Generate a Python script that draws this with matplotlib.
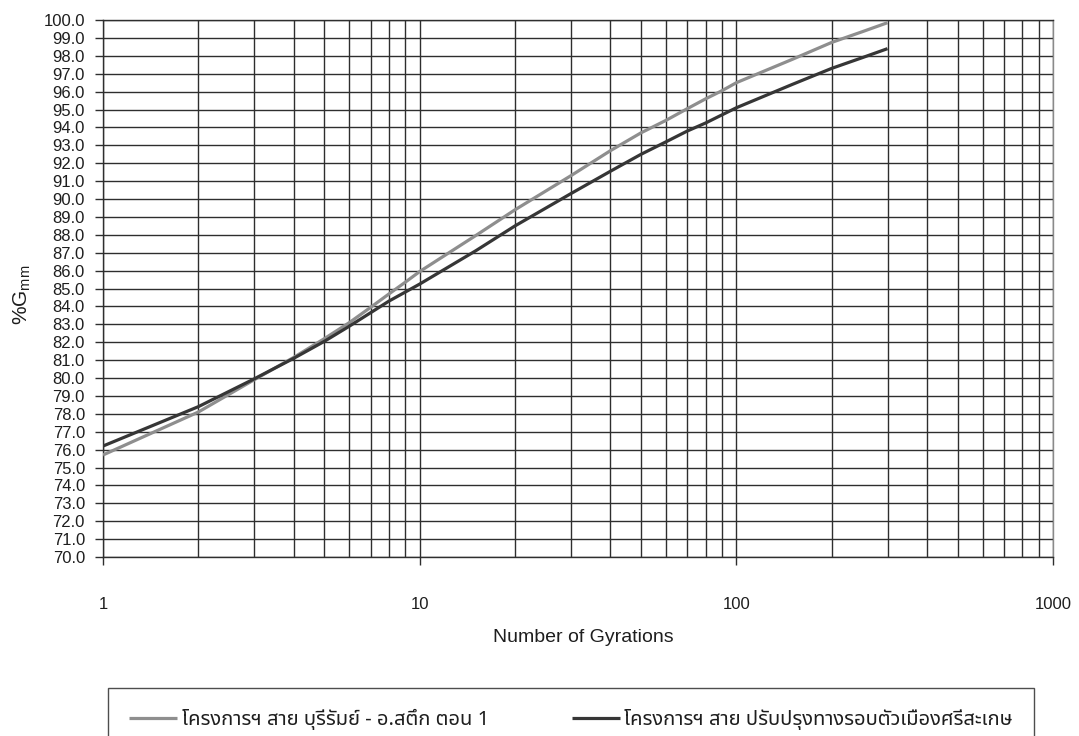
import numpy as np
import matplotlib
matplotlib.use("Agg")
import matplotlib.pyplot as plt
from matplotlib import font_manager
from matplotlib.font_manager import FontProperties
from matplotlib.ft2font import FT2Font
from matplotlib.ticker import FixedLocator, LogLocator, FuncFormatter, NullFormatter

# ---- data -------------------------------------------------------------
gyrations = [1, 2, 3, 4, 5, 6, 7, 8, 9, 10, 15, 20, 30, 40, 50, 60, 70, 80, 90,
             100, 150, 200, 250, 300]
gmm_buriram = [75.7, 78.1, 79.9, 81.15, 82.2, 83.1, 83.95, 84.7, 85.35, 85.95,
               87.95, 89.4, 91.3, 92.7, 93.7, 94.4, 95.05, 95.6, 96.05,
               96.5, 97.8, 98.75, 99.35, 99.85]
gmm_sisaket = [76.2, 78.4, 79.95, 81.1, 82.05, 82.9, 83.65, 84.3, 84.8, 85.25,
               87.1, 88.5, 90.3, 91.55, 92.5, 93.2, 93.8, 94.25, 94.7,
               95.1, 96.4, 97.3, 97.9, 98.4]
series_labels = ["โครงการฯ สาย บุรีรัมย์ - อ.สตึก ตอน 1",
                 "โครงการฯ สาย ปรับปรุงทางรอบตัวเมืองศรีสะเกษ"]
x_ticks = [1, 10, 100, 1000]
x_tick_labels = ["1", "10", "100", "1000"]
y_ticks = list(range(70, 101))
x_title = "Number of Gyrations"
y_title = "%G$_{\\mathrm{mm}}$"


def thai_family():
    """Return the name of an installed font that carries Thai glyphs."""
    preferred = ["Noto Sans Thai", "Noto Sans Thai UI", "Loma", "Garuda",
                 "Sawasdee", "Waree", "Norasi", "Kinnari", "Tlwg Typo"]
    found = []
    for fe in font_manager.fontManager.ttflist:
        try:
            cmap = FT2Font(fe.fname).get_charmap()
        except Exception:
            continue
        if 0x0E01 in cmap and 0x0E42 in cmap and 0x0E2A in cmap:
            found.append(fe.name)
    for name in preferred:
        if name in found:
            return name
    return found[0] if found else None


BASE = "Liberation Sans"
plt.rcParams["font.family"] = [BASE, "DejaVu Sans"]
plt.rcParams["mathtext.fontset"] = "custom"
plt.rcParams["mathtext.rm"] = BASE
plt.rcParams["mathtext.it"] = BASE

thai = thai_family()
legend_family = [thai, BASE, "DejaVu Sans"] if thai else [BASE, "DejaVu Sans"]

GRID = "#2e2e2e"
TXT = "#1e1e1e"

fig = plt.figure(figsize=(10.79, 7.36), dpi=100)
ax = fig.add_axes([0.0955, 0.2432, 0.8805, 0.7296])

ax.set_xscale("log")
ax.set_xlim(1, 1000)
ax.set_ylim(70, 100)

l1, = ax.plot(gyrations, gmm_buriram, color="#8e8e8e", lw=2.3,
              solid_capstyle="butt", zorder=4, label=series_labels[0])
l2, = ax.plot(gyrations, gmm_sisaket, color="#363636", lw=2.3,
              solid_capstyle="butt", zorder=4, label=series_labels[1])

# axes, ticks and grid
ax.xaxis.set_major_locator(FixedLocator(x_ticks))
ax.xaxis.set_major_formatter(FuncFormatter(
    lambda v, p: x_tick_labels[x_ticks.index(int(round(v)))] if int(round(v)) in x_ticks else ""))
ax.xaxis.set_minor_locator(LogLocator(base=10, subs=np.arange(2, 10), numticks=20))
ax.xaxis.set_minor_formatter(NullFormatter())
ax.yaxis.set_major_locator(FixedLocator(y_ticks))
ax.yaxis.set_major_formatter(FuncFormatter(lambda v, p: f"{v:.1f}"))

ax.grid(True, which="both", axis="x", color=GRID, lw=1.0, zorder=1)
ax.grid(True, which="major", axis="y", color=GRID, lw=1.0, zorder=1)
ax.set_axisbelow(True)

ax.tick_params(axis="x", which="major", direction="out", length=6, width=1.0,
               color=GRID, pad=23, labelsize=12, labelcolor=TXT,
               top=False, bottom=True)
ax.tick_params(axis="x", which="minor", length=0)
ax.tick_params(axis="y", which="major", direction="out", length=6, width=1.0,
               color=GRID, pad=7, labelsize=12, labelcolor=TXT,
               left=True, right=False)

for side in ("left", "bottom", "top"):
    ax.spines[side].set_color(GRID)
    ax.spines[side].set_linewidth(1.0)
ax.spines["right"].set_color("#8a8a8a")
ax.spines["right"].set_linewidth(1.0)

# titles
fig.text(583 / 1079, 1 - 637 / 736, x_title, ha="center", va="center",
         fontsize=14, color=TXT)
fig.text(22 / 1079, 1 - 295 / 736, y_title, ha="center", va="center",
         rotation=90, fontsize=15, color=TXT)

# legend box along the bottom edge
leg = fig.legend(handles=[l1, l2], loc="upper left",
                 bbox_to_anchor=(108 / 1079, 1 - 688 / 736, (1034 - 108) / 1079, 0.0),
                 mode="expand", ncol=2, frameon=True, fancybox=False,
                 borderpad=1.05, handlelength=2.4, handletextpad=0.2,
                 borderaxespad=0.0, columnspacing=2.0,
                 prop=FontProperties(family=legend_family, size=14.5))
leg.get_frame().set_edgecolor("#222222")
leg.get_frame().set_linewidth(1.0)
for t in leg.get_texts():
    t.set_color(TXT)

fig.savefig("out.png", dpi=100, facecolor="white")
